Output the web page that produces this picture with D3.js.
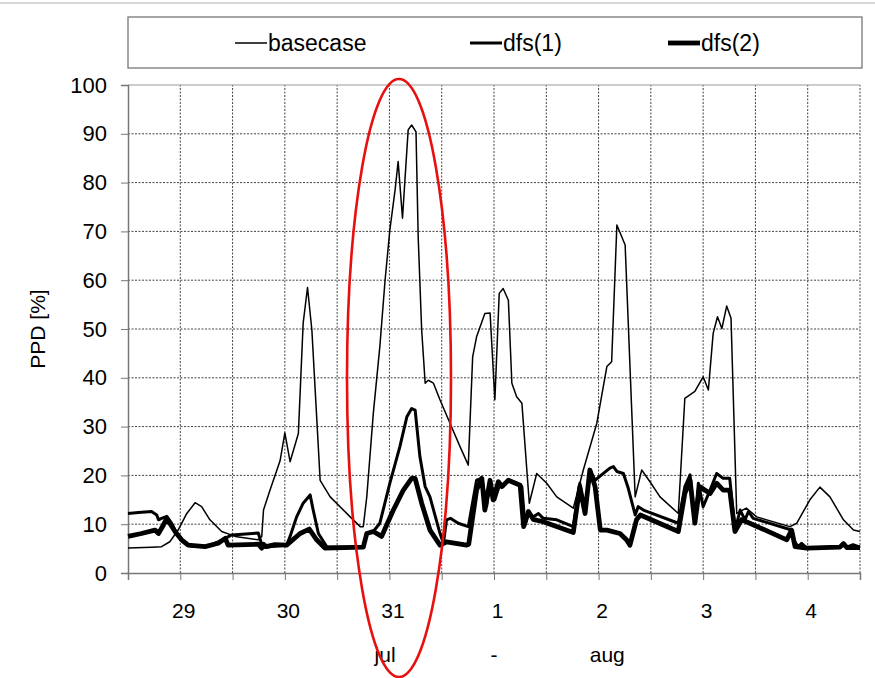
<!DOCTYPE html>
<html>
<head>
<meta charset="utf-8">
<script src="https://cdn.jsdelivr.net/npm/d3@7"></script>
<style>
  body { margin: 0; background: #fff; }
  svg { font-family: "Liberation Sans", Arial, sans-serif; }
</style>
</head>
<body>
<div id="container"></div>
<script>
/* CONSTANTS AND GLOBALS */
const width = 875,
  height = 678,
  margin = { top: 85, bottom: 105, left: 128, right: 13 };

// hours since 29 jul 00:00, PPD [%]
const basecase = [
  [0, 5.1], [5.4, 5.3], [7.7, 5.4], [9.6, 6.4], [11.5, 8.8], [13.5, 12.2], [15.4, 14.4],
  [16.9, 13.6], [18.8, 10.9], [21.5, 8.5], [24.6, 7.5], [29.9, 6.8], [30.7, 7.5], [31.1, 12.9],
  [32.6, 17], [34.9, 23], [36.0, 28.7], [37.2, 22.8], [39.1, 28.6], [40.2, 51.2], [41.2, 58.5],
  [42.2, 49.8], [44.1, 19], [46.4, 15.6], [51.0, 11.5], [53.3, 9.5], [54.0, 9.5], [54.8, 15.6],
  [56.3, 32.7], [57.8, 46.4], [59.0, 60], [60.1, 70.3], [61.3, 78.5], [62.0, 84.3], [63.0, 72.7],
  [64.3, 90.8], [65.1, 91.8], [66.1, 90.4], [66.6, 68.9], [67.4, 49.8], [68.2, 38.9], [68.9, 39.5],
  [70.1, 38.9], [71.6, 35.5], [73.9, 30.7], [76.2, 25.9], [78.1, 22.1], [79.1, 44.3], [80.0, 48.4],
  [81.9, 53.2], [83.1, 53.3], [84.2, 35.5], [85.2, 57.3], [86.1, 58.3], [87.3, 55.9], [88.1, 38.9],
  [89.2, 36.1], [90.4, 34.8], [92.1, 14.3], [93.8, 20.4], [96.1, 18.4], [98.4, 15.6], [102.2, 13.3],
  [104.5, 21.1], [107.6, 30.7], [109.9, 42.3], [111.0, 43.3], [112.2, 71.3], [114.1, 67.2],
  [116.4, 15.6], [117.9, 21.1], [119.8, 18.7], [122.1, 15.6], [126.3, 12.2], [127.8, 35.8],
  [130.1, 37.2], [132.0, 40.2], [133.2, 37.5], [134.3, 49.1], [135.3, 52.5], [136.3, 50.1],
  [137.4, 54.7], [138.4, 52.2], [139.7, 12.2], [141.9, 13.3], [144.3, 11.5], [151.9, 9.5],
  [153.5, 10.2], [156.5, 15], [158.8, 17.6], [161.1, 15.6], [164.2, 10.9], [166.5, 8.8], [168, 8.5]
];

const dfs1 = [
  [0, 12.2], [2.4, 12.4], [5.4, 12.6], [6.6, 11.9], [7.0, 10.9], [7.7, 11.2], [8.9, 11.6],
  [10.0, 10.2], [11.5, 7.5], [13.1, 6.1], [14.6, 5.5], [18.4, 5.5], [20.7, 6.4], [22.3, 7.1],
  [23.8, 7.8], [29.9, 8.2], [30.8, 5.5], [31.0, 5.3], [36.4, 5.7], [37.2, 7.5], [38.7, 11.5],
  [40.2, 14.3], [41.8, 16], [42.5, 12.9], [43.7, 8.1], [45.6, 5.4], [54.0, 5.3], [54.8, 8.1],
  [56.3, 8.5], [57.8, 10.2], [60.1, 18.4], [62.4, 25.9], [64.0, 32], [65.1, 33.7], [65.9, 33.4],
  [67.0, 23.8], [68.2, 17.7], [69.3, 15.6], [71.6, 8.1], [72.4, 6.1], [73.1, 10.9], [74.0, 11.2],
  [75.8, 10.2], [78.1, 9.5], [80.0, 19], [81.2, 19.4], [82.3, 13.6], [83.1, 19], [84.2, 15],
  [85.4, 18.4], [86.1, 17.7], [87.3, 19], [89.2, 18.4], [90.4, 17.7], [91.1, 9.8], [91.9, 12.2],
  [93.0, 11.5], [94.2, 12.2], [95.3, 11.2], [98.4, 10.9], [102.2, 9.5], [103.7, 18.4], [104.9, 12.2],
  [106.0, 21.1], [107.2, 19], [109.1, 20.4], [110.6, 21.5], [111.4, 21.8], [112.2, 20.8],
  [113.7, 20.4], [114.8, 17.4], [116.4, 11.9], [117.1, 13.6], [118.3, 12.9], [126.3, 10.2],
  [127.8, 17.7], [129.0, 20.1], [130.1, 10.2], [130.9, 18.4], [132.0, 13.6], [133.6, 17],
  [135.1, 20.4], [136.6, 19.4], [138.1, 19.4], [139.3, 8.8], [140.5, 12.9], [141.6, 10.9],
  [142.4, 12.6], [143.5, 11.2], [152.3, 8.8], [152.7, 6.8], [153.8, 5.4], [154.6, 6.1],
  [155.8, 5.1], [163.4, 5.4], [164.2, 6.2], [165.0, 5.3], [166.4, 5.8], [168, 5.3]
];

const dfs2 = [
  [0, 7.5], [3.1, 8.1], [6.2, 8.8], [7.0, 8.1], [8.1, 9.8], [8.9, 11.2], [9.6, 10.2],
  [10.8, 8.5], [12.3, 6.8], [13.8, 5.7], [17.7, 5.4], [20.7, 6.1], [22.3, 7.1], [23.0, 5.7],
  [29.9, 5.9], [30.7, 5.1], [31.1, 5.9], [31.7, 5.4], [33.7, 5.8], [36.4, 5.7], [39.5, 8.1],
  [41.6, 9], [43.3, 6.8], [45.2, 5.1], [54.0, 5.3], [54.8, 8.1], [56.3, 8.5], [58.2, 7.5],
  [60.9, 12.9], [63.2, 17], [65.1, 19.4], [65.9, 19.4], [67.4, 14.3], [69.3, 8.8], [71.6, 5.7],
  [73.1, 6.4], [77.7, 5.7], [78.2, 5.9], [80.0, 17], [81.2, 19.4], [81.9, 12.9], [83.1, 19],
  [83.8, 15], [85.0, 18.7], [85.8, 17.7], [87.3, 19], [90.0, 18], [90.8, 9.5], [91.9, 12.6],
  [93.0, 11], [95.3, 10.5], [102.2, 8.3], [103.7, 17.7], [104.9, 12.2], [106.0, 21.1],
  [107.2, 17.7], [108.4, 8.8], [109.9, 8.8], [112.9, 8.1], [114.4, 6.8], [115.2, 5.7],
  [116.7, 10.9], [117.6, 11.9], [126.3, 8.5], [127.8, 16.3], [129.0, 19], [130.1, 10.2],
  [131.2, 17.7], [133.6, 16.3], [135.1, 18.4], [136.6, 17], [138.1, 17], [139.3, 8.5],
  [140.8, 10.9], [142.7, 10.2], [151.2, 6.8], [152.3, 8.8], [153.1, 5.4], [155.8, 5.1],
  [163.4, 5.3], [164.2, 6], [165.0, 5.2], [168, 5.2]
];

const seriesNames = ["basecase", "dfs(1)", "dfs(2)"];
const dayLabels = ["29", "30", "31", "1", "2", "3", "4"];
const monthLabels = ["jul", "-", "aug"];
const yTicks = [0, 10, 20, 30, 40, 50, 60, 70, 80, 90, 100];

/* SCALES */
const xScale = d3.scaleLinear()
  .domain([0, 168])
  .range([margin.left, width - margin.right - 2]);

const yScale = d3.scaleLinear()
  .domain([0, 100])
  .range([height - margin.bottom, margin.top]);

const svg = d3.select("#container")
  .append("svg")
  .attr("width", width)
  .attr("height", height);

// faint frame line at the top
svg.append("line")
  .attr("x1", 0).attr("x2", width)
  .attr("y1", 3).attr("y2", 3)
  .attr("stroke", "#c8c8c8")
  .attr("stroke-width", 1.5);

// grid
const hourTicks = d3.range(12, 169, 12);
svg.append("g")
  .selectAll("line")
  .data(hourTicks)
  .join("line")
  .attr("x1", d => xScale(d)).attr("x2", d => xScale(d))
  .attr("y1", yScale(0)).attr("y2", yScale(100))
  .attr("stroke", "#444")
  .attr("stroke-width", 1)
  .attr("stroke-dasharray", "2,1.5");

svg.append("g")
  .selectAll("line")
  .data(yTicks.slice(1, -1))
  .join("line")
  .attr("x1", xScale(0)).attr("x2", xScale(168))
  .attr("y1", d => yScale(d)).attr("y2", d => yScale(d))
  .attr("stroke", "#444")
  .attr("stroke-width", 1)
  .attr("stroke-dasharray", "2,1.5");

svg.append("line")
  .attr("x1", xScale(0)).attr("x2", xScale(168))
  .attr("y1", yScale(100)).attr("y2", yScale(100))
  .attr("stroke", "#999");

/* AXES */
const yAxis = d3.axisLeft(yScale)
  .tickValues(yTicks)
  .tickSize(7)
  .tickPadding(14);
svg.append("g")
  .attr("transform", `translate(${margin.left},0)`)
  .call(yAxis)
  .call(g => g.select(".domain").attr("stroke", "#777").attr("stroke-width", 1.5))
  .call(g => g.selectAll(".tick line").attr("stroke", "#777"))
  .call(g => g.selectAll(".tick text").attr("font-size", 22).attr("fill", "#000"));

const xAxis = d3.axisBottom(xScale)
  .tickValues(d3.range(0, 169, 12))
  .tickSize(7)
  .tickFormat("");
svg.append("g")
  .attr("transform", `translate(0,${yScale(0)})`)
  .call(xAxis)
  .call(g => g.select(".domain").attr("stroke", "#777").attr("stroke-width", 1.5))
  .call(g => g.selectAll(".tick line").attr("stroke", "#777"));

svg.append("g")
  .selectAll("text")
  .data(dayLabels)
  .join("text")
  .attr("x", (d, i) => xScale(12.8 + 24 * i))
  .attr("y", yScale(0) + 45)
  .attr("text-anchor", "middle")
  .attr("font-size", 21)
  .text(d => d);

svg.append("g")
  .selectAll("text")
  .data(monthLabels)
  .join("text")
  .attr("x", (d, i) => xScale([59, 84, 110][i]))
  .attr("y", yScale(0) + 89)
  .attr("text-anchor", "middle")
  .attr("font-size", 21)
  .text(d => d);

svg.append("text")
  .attr("transform", `translate(45,${yScale(50)}) rotate(-90)`)
  .attr("text-anchor", "middle")
  .attr("font-size", 21)
  .text("PPD [%]");

/* LINES */
const line = d3.line()
  .x(d => xScale(d[0]))
  .y(d => yScale(d[1]));

const widths = [1.5, 3, 4.8];
[basecase, dfs1, dfs2].forEach((s, i) => {
  svg.append("path")
    .datum(s)
    .attr("fill", "none")
    .attr("stroke", "#000")
    .attr("stroke-width", widths[i])
    .attr("stroke-linejoin", "round")
    .attr("d", line);
});

/* LEGEND */
svg.append("rect")
  .attr("x", margin.left).attr("y", 17)
  .attr("width", xScale(168) - margin.left + 2).attr("height", 51)
  .attr("fill", "#fff")
  .attr("stroke", "#777")
  .attr("stroke-width", 1.3);

const legendX = [235, 470, 668];
const legend = svg.append("g")
  .selectAll("g")
  .data(seriesNames)
  .join("g")
  .attr("transform", (d, i) => `translate(${legendX[i]},43)`);
legend.append("line")
  .attr("x1", 0).attr("x2", 32)
  .attr("stroke", "#000")
  .attr("stroke-width", (d, i) => widths[i]);
legend.append("text")
  .attr("x", 33)
  .attr("y", 8)
  .attr("font-size", 23)
  .text(d => d);

// red highlight ellipse
svg.append("ellipse")
  .attr("cx", 399).attr("cy", 378)
  .attr("rx", 52).attr("ry", 299)
  .attr("fill", "none")
  .attr("stroke", "#e8100e")
  .attr("stroke-width", 2.6);
</script>
</body>
</html>
